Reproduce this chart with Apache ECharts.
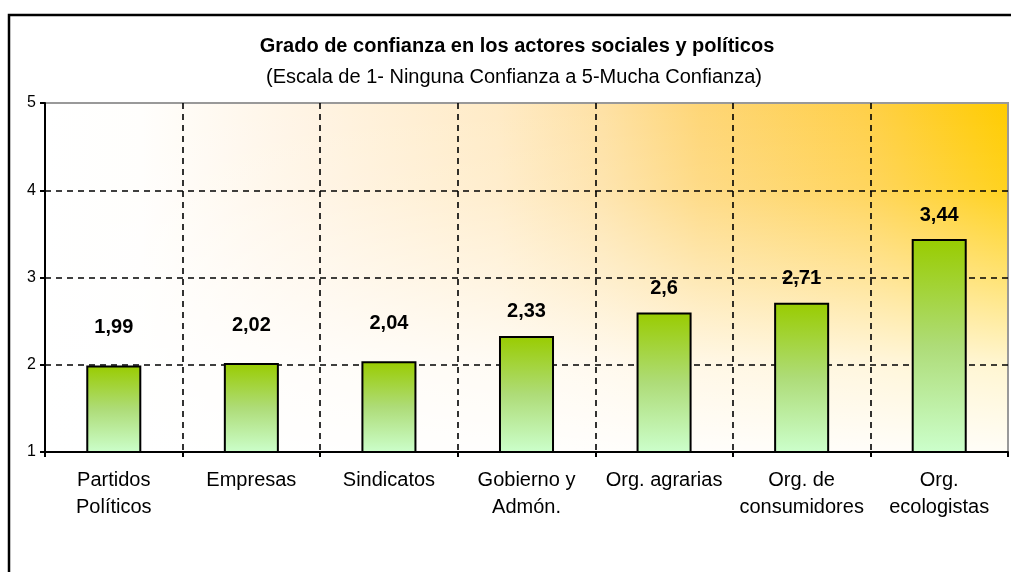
<!DOCTYPE html>
<html>
<head>
<meta charset="utf-8">
<title>Grado de confianza</title>
<script src="https://cdn.jsdelivr.net/npm/echarts@6/dist/echarts.min.js"></script>
<style>
  html, body { margin: 0; padding: 0; background: #fff; }
  #chart { width: 1011px; height: 572px; }
</style>
</head>
<body>
<div id="chart"></div>
<script>
// datos del gráfico
var categories = ['Partidos\nPolíticos', 'Empresas', 'Sindicatos', 'Gobierno y\nAdmón.', 'Org. agrarias', 'Org. de\nconsumidores', 'Org.\necologistas'];
var values = [1.99, 2.02, 2.04, 2.33, 2.6, 2.71, 3.44];
var yTicks = [1, 2, 3, 4, 5];

var titleText = 'Grado de confianza en los actores sociales y políticos';
var subtitleText = '(Escala de 1- Ninguna Confianza a 5-Mucha Confianza)';

// área del gráfico (px)
var plot = { left: 45, top: 103, right: 1008, bottom: 452 };
var W = 1011, H = 572;
var font = 'Liberation Sans, Arial, sans-serif';

var chart = echarts.init(document.getElementById('chart'));

var barData = values.map(function (v) {
  // las etiquetas cercanas a la línea 2 van un poco más arriba
  return { value: v, label: { distance: v < 2.1 ? 28 : 14 } };
});

var option = {
  animation: false,
  backgroundColor: '#fff',
  grid: {
    show: true,
    left: plot.left,
    top: plot.top,
    right: W - plot.right,
    bottom: H - plot.bottom,
    borderColor: '#999',
    borderWidth: 2,
    backgroundColor: 'transparent'
  },
  graphic: [
    {
      // fondo: blanco a la izquierda, naranja a la derecha
      type: 'rect', z: -2, silent: true,
      shape: { x: plot.left, y: plot.top, width: plot.right - plot.left, height: plot.bottom - plot.top },
      style: {
        fill: new echarts.graphic.LinearGradient(0, 0, 1, 0, [
          { offset: 0, color: '#FFFFFF' },
          { offset: 0.1, color: '#FFFEFC' },
          { offset: 0.27, color: '#FFF4E4' },
          { offset: 0.47, color: '#FFEBC6' },
          { offset: 0.58, color: '#FEE1A4' },
          { offset: 0.68, color: '#FED677' },
          { offset: 0.85, color: '#FFD04A' },
          { offset: 1, color: '#FFCC00' }
        ])
      }
    },
    {
      // se aclara hacia abajo
      type: 'rect', z: -1, silent: true,
      shape: { x: plot.left, y: plot.top, width: plot.right - plot.left, height: plot.bottom - plot.top },
      style: {
        fill: new echarts.graphic.LinearGradient(0, 0, 0, 1, [
          { offset: 0, color: 'rgba(255,255,255,0)' },
          { offset: 0.25, color: 'rgba(255,255,255,0.12)' },
          { offset: 0.5, color: 'rgba(255,255,255,0.45)' },
          { offset: 0.75, color: 'rgba(255,255,255,0.82)' },
          { offset: 1, color: 'rgba(255,255,255,0.97)' }
        ])
      }
    },
    {
      // marco exterior
      type: 'rect', z: 10, silent: true,
      shape: { x: 9, y: 15, width: 1100, height: 700 },
      style: { fill: 'none', stroke: '#000', lineWidth: 2.5 }
    },
    {
      type: 'text', z: 10, silent: true,
      x: 517, y: 46,
      style: { text: titleText, font: 'bold 20px ' + font, fill: '#000', align: 'center', verticalAlign: 'middle' }
    },
    {
      type: 'text', z: 10, silent: true,
      x: 514, y: 77,
      style: { text: subtitleText, font: '20px ' + font, fill: '#000', align: 'center', verticalAlign: 'middle' }
    }
  ],
  xAxis: {
    type: 'category',
    data: categories,
    boundaryGap: true,
    axisLine: { lineStyle: { color: '#000', width: 2 } },
    axisTick: { show: true, length: 5, lineStyle: { color: '#000', width: 2 } },
    axisLabel: {
      color: '#000', fontFamily: font, fontSize: 20, lineHeight: 27,
      margin: 15, interval: 0
    },
    splitLine: {
      show: true,
      showMinLine: false,
      showMaxLine: false,
      lineStyle: { color: '#000', width: 1.6, type: [6, 5] }
    }
  },
  yAxis: {
    type: 'value',
    min: yTicks[0],
    max: yTicks[yTicks.length - 1],
    interval: 1,
    axisLine: { show: true, lineStyle: { color: '#000', width: 2 } },
    axisTick: { show: true, length: 5, lineStyle: { color: '#000', width: 2 } },
    axisLabel: { color: '#000', fontFamily: font, fontSize: 16, margin: 9 },
    splitLine: {
      show: true,
      showMinLine: false,
      showMaxLine: false,
      lineStyle: { color: '#000', width: 1.6, type: [6, 5] }
    }
  },
  series: [{
    type: 'bar',
    data: barData,
    barWidth: '40%',
    itemStyle: {
      borderColor: '#000',
      borderWidth: 2,
      color: new echarts.graphic.LinearGradient(0, 0, 0, 1, [
        { offset: 0, color: '#99CC00' },
        { offset: 0.5, color: '#AEDC78' },
        { offset: 1, color: '#CCFFCC' }
      ])
    },
    label: {
      show: true,
      position: 'top',
      color: '#000',
      fontFamily: font,
      fontWeight: 'bold',
      fontSize: 20,
      formatter: function (p) { return String(p.value).replace('.', ','); }
    }
  }]
};

chart.setOption(option);
</script>
</body>
</html>
